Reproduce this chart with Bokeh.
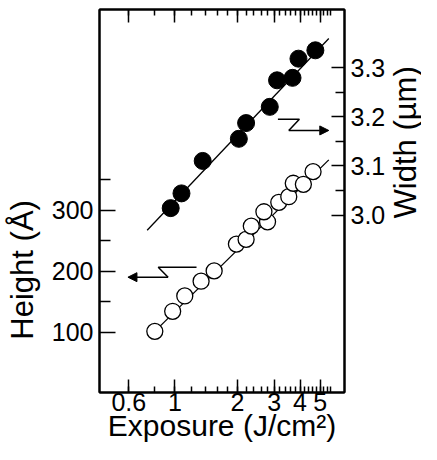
import math
from bokeh.plotting import figure
from bokeh.layouts import row
from bokeh.models import (LinearAxis, LogAxis, Range1d, FixedTicker, Arrow,
                          NormalHead, CustomJSTickFormatter)
from bokeh.core.properties import value
from bokeh.embed import file_html
from bokeh.resources import INLINE

# ---- data ----
exposure_width = [0.954, 1.075, 1.36, 2.03, 2.20, 2.86, 3.10, 3.68, 3.93, 4.74]
width_um = [3.014, 3.044, 3.110, 3.155, 3.187, 3.220, 3.274, 3.279, 3.318, 3.335]

exposure_height = [0.80, 0.975, 1.115, 1.336, 1.544, 1.976, 2.20, 2.33, 2.79, 2.68,
                   3.16, 3.53, 3.71, 4.15, 4.62]
height_A = [101.6, 134.4, 159.5, 183.6, 200.5, 244.3, 252.0, 273.8, 280.8, 297.2,
            312.6, 321.8, 343.8, 342.1, 362.8]

fit_width_x = [0.735, 5.50]
fit_width_y = [2.969, 3.359]
fit_height_x = [0.80, 5.50]
fit_height_y = [101.6, 382.0]

x_major = [0.6, 1, 2, 3, 4, 5]
x_minor = [round(0.6 + 0.2 * i, 1) for i in range(26)]
h_major = [100, 200, 300]
h_minor = [150, 250, 350]
w_major = [3.0, 3.1, 3.2, 3.3]
w_minor = [3.05, 3.15, 3.25]

# arrow annotations (data coordinates)
left_arrow_x = [1.27, 0.831, 0.927, 0.594]
left_arrow_y = [206.6, 206.6, 190.2, 190.2]
right_arrow_x = [3.13, 3.97, 3.53, 5.50]
right_arrow_y = [3.195, 3.195, 3.172, 3.172]

FONT = "Liberation Sans"
TICK_FS = "25px"
NB = "\u00a0"
H = 444
P_W = 388
T_W = 421 - P_W

p = figure(width=P_W, height=H, x_axis_type="log",
           x_range=Range1d(0.4334, 6.546), y_range=Range1d(1.6, 628),
           output_backend="svg", toolbar_location=None, title=None,
           min_border_left=99, min_border_right=41,
           min_border_top=9, min_border_bottom=52)
p.extra_y_ranges = {"w": Range1d(2.639, 3.418)}
p.xgrid.visible = False
p.ygrid.visible = False
p.outline_line_color = "black"
p.outline_line_width = 2
p.background_fill_color = "white"
p.border_fill_color = "white"

def style(ax, major_in, minor_in, label_fs="31px"):
    ax.axis_line_width = 2
    ax.axis_line_color = "black"
    ax.major_tick_in = major_in
    ax.major_tick_out = 0
    ax.minor_tick_in = minor_in
    ax.minor_tick_out = 0
    ax.major_tick_line_width = 1.5
    ax.minor_tick_line_width = 1.5
    ax.major_label_text_font = FONT
    ax.major_label_text_font_size = TICK_FS
    ax.major_label_text_color = "black"
    ax.axis_label_text_font = FONT
    ax.axis_label_text_font_size = label_fs
    ax.axis_label_text_font_style = "normal"
    ax.axis_label_text_color = "black"

xa = p.xaxis[0]
xa.ticker = FixedTicker(ticks=x_major, minor_ticks=x_minor)
xa.formatter = CustomJSTickFormatter(code="return tick.toString();")
style(xa, 13, 6, "30px")
xa.major_label_standoff = 0
xa.axis_label = "Exposure (J/cm²)"
xa.axis_label_standoff = -5

ya = p.yaxis[0]
ya.ticker = FixedTicker(ticks=h_major, minor_ticks=h_minor)
style(ya, 16, 11, "31px")
ya.major_label_standoff = 6
ya.axis_label = "Height (Å)" + NB * 16
ya.axis_label_standoff = 9

top = LogAxis(ticker=FixedTicker(ticks=x_major, minor_ticks=x_minor),
              formatter=CustomJSTickFormatter(code="return '';"))
style(top, 13, 6)
top.major_label_standoff = 0
p.add_layout(top, "above")

ra = LinearAxis(y_range_name="w",
                ticker=FixedTicker(ticks=w_major, minor_ticks=w_minor),
                formatter=CustomJSTickFormatter(code="return tick.toFixed(1);"))
style(ra, 13, 9)
ra.major_label_standoff = 6
p.add_layout(ra, "right")

# fit lines
p.line(fit_width_x, fit_width_y, y_range_name="w", line_color="black", line_width=1.3)
p.line(fit_height_x, fit_height_y, line_color="black", line_width=1.3)

# markers
p.scatter(exposure_width, width_um, y_range_name="w", size=17,
          fill_color="black", line_color="black")
p.scatter(exposure_height, height_A, size=16, fill_color="white",
          line_color="black", line_width=1.3)

# Z-arrows
p.line(left_arrow_x[:3], left_arrow_y[:3], line_color="black", line_width=1.5)
p.add_layout(Arrow(end=NormalHead(size=9, fill_color="black", line_color="black"),
                   x_start=left_arrow_x[2], y_start=left_arrow_y[2],
                   x_end=left_arrow_x[3], y_end=left_arrow_y[3],
                   line_width=1.5, line_color="black"))
p.line(right_arrow_x[:3], right_arrow_y[:3], y_range_name="w",
       line_color="black", line_width=1.5)
p.add_layout(Arrow(end=NormalHead(size=9, fill_color="black", line_color="black"),
                   x_start=right_arrow_x[2], y_start=right_arrow_y[2],
                   x_end=right_arrow_x[3], y_end=right_arrow_y[3],
                   y_range_name="w", line_width=1.5, line_color="black"))

# right-hand axis title, drawn in a narrow companion panel (pixel space)
t = figure(width=T_W, height=H, x_range=Range1d(0, T_W), y_range=Range1d(0, H),
           output_backend="svg", toolbar_location=None, title=None,
           x_axis_location=None, y_axis_location=None,
           min_border=0, outline_line_color=None)
t.xgrid.visible = False
t.ygrid.visible = False
t.text(x=[T_W / 2], y=[H - 154], text=["Width (µm)"], angle=math.pi / 2,
       text_align="center", text_baseline="middle",
       text_font=value(FONT), text_font_size="31px", text_color="black")

layout = row(p, t, spacing=0)
open("out.html", "w").write(file_html(layout, INLINE))
